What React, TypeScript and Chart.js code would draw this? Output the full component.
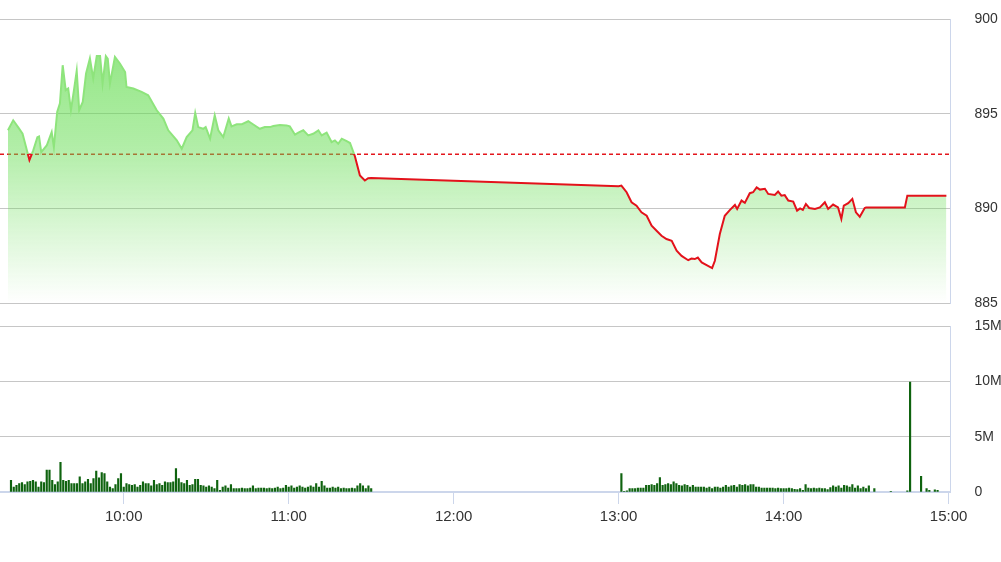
import React, { useEffect, useRef } from "react";
import { Chart, registerables } from "chart.js";

Chart.register(...registerables);

// Minutes elapsed since 09:15 (left edge of the time axis)
const X_MAX = 345.7;
const REFERENCE = 892.86;

const morningTimes = [
  2.9, 4.8, 6.7, 8.2, 10.7, 12.1, 13.6, 14.2, 15, 17, 18.8, 19.6, 20.8, 21.8, 22.8, 23.9, 24.8, 25.8, 26.9, 27.9,
  28.8, 30.1, 31.3, 32.7, 33.9, 35.2, 36.4, 37.3, 38.5, 39.2, 40, 41.8, 43.6, 45.5, 46, 48.5, 51.5, 53.9, 57, 59.4,
  61.2, 64.3, 66.1, 67.9, 70, 71, 72.1, 73.9, 74.8, 76.4, 78.1, 79.4, 81.2, 83.2, 84.2, 86.1, 88, 90.3, 92, 94.5,
  96.3, 98.2, 99.4, 101.8, 104.2, 105.4, 107.3, 108.5, 110.3, 112.1, 113.9, 115.8, 117, 118.8, 120.6, 121.8, 123,
  124.3, 126.1, 127.3, 129.1, 130.9, 132.7, 133.9, 135,
];
const morningPrices = [
  894.12, 894.65, 894.26, 893.94, 892.55, 893.06, 893.76, 893.8, 892.97, 893.32, 894.03, 893.23, 895.09, 895.55,
  897.56, 896.24, 896.33, 895.18, 896.24, 897.26, 895.18, 895.62, 897.12, 897.92, 896.86, 898.04, 898.04, 896.59,
  898.04, 897.9, 896.59, 898.0, 897.65, 897.2, 896.41, 896.33, 896.15, 895.97, 895.18, 894.74, 894.12, 893.59,
  893.15, 893.76, 894.12, 895.04, 894.29, 894.2, 894.29, 893.68, 894.91, 894.12, 893.76, 894.74, 894.33, 894.44,
  894.44, 894.6, 894.44, 894.2, 894.29, 894.29, 894.35, 894.4, 894.38, 894.33, 893.89, 894.0, 894.12, 893.85,
  893.94, 894.12, 893.85, 894.0, 893.5, 893.59, 893.41, 893.68, 893.55, 893.45, 892.74, 891.73, 891.47, 891.59,
  891.6,
];
const afternoonTimes = [
  225, 226, 227.9, 229.7, 231.5, 233.3, 235.2, 237, 238.8, 240.6, 242.4, 244.3, 246.1, 247.9, 250.3, 251.5, 252.7,
  253.8, 255.2, 257, 259, 260, 261.8, 263.6, 265.5, 267.3, 268.1, 269.7, 270.9, 272.7, 273.9, 275.2, 276.4, 278.2,
  279.4, 281.8, 283, 284.2, 285.4, 286.7, 288.5, 289.9, 291, 292, 293.1, 294.3, 296.4, 298.2, 300, 301.2, 303,
  304.8, 306, 306.9, 308.5, 310, 311.3, 312.7, 314.5, 315, 329.1, 330, 344.2,
];
const afternoonPrices = [
  891.17, 891.2, 890.85, 890.32, 890.14, 889.79, 889.61, 889.08, 888.82, 888.55, 888.38, 888.29, 887.76, 887.49,
  887.26, 887.35, 887.32, 887.4, 887.14, 887.0, 886.84, 887.23, 888.64, 889.61, 889.92, 890.18, 889.97, 890.41,
  890.29, 890.8, 890.85, 891.11, 890.99, 891.03, 890.76, 890.71, 890.89, 890.67, 890.7, 890.41, 890.36, 889.88,
  890.0, 889.92, 890.23, 890.02, 889.97, 890.05, 890.32, 889.97, 890.2, 890.05, 889.44, 890.14, 890.27, 890.5,
  889.79, 889.56, 890.02, 890.05, 890.05, 890.67, 890.67,
];

// Volume in millions, one bar per minute
const morningVolumeStart = 4; // 09:19
const morningVolumes = [
  1.06, 0.45, 0.6, 0.76, 0.85, 0.67, 0.91, 0.97, 1.06, 0.91, 0.45, 0.91, 0.85, 1.97, 1.97, 1.06, 0.67, 0.91, 2.67,
  1.06, 0.97, 1.06, 0.76, 0.76, 0.76, 1.36, 0.76, 0.91, 1.15, 0.76, 1.21, 1.88, 1.27, 1.76, 1.67, 0.91, 0.45, 0.3,
  0.67, 1.21, 1.67, 0.45, 0.76, 0.67, 0.6, 0.67, 0.45, 0.6, 0.91, 0.76, 0.76, 0.55, 1.06, 0.67, 0.76, 0.6, 0.91,
  0.85, 0.85, 0.91, 2.12, 1.21, 0.85, 0.76, 1.06, 0.6, 0.67, 1.15, 1.15, 0.6, 0.55, 0.45, 0.55, 0.45, 0.3, 1.06,
  0.15, 0.45, 0.55, 0.36, 0.67, 0.3, 0.3, 0.3, 0.36, 0.3, 0.3, 0.36, 0.55, 0.3, 0.36, 0.36, 0.36, 0.3, 0.36, 0.3,
  0.36, 0.45, 0.3, 0.36, 0.6, 0.45, 0.55, 0.36, 0.45, 0.55, 0.45, 0.36, 0.45, 0.55, 0.45, 0.76, 0.45, 0.97, 0.55,
  0.36, 0.36, 0.45, 0.36, 0.45, 0.3, 0.36, 0.3, 0.3, 0.36, 0.3, 0.55, 0.76, 0.55, 0.3, 0.55, 0.3,
];
const afternoonVolumeStart = 226; // 13:01
const afternoonVolumes = [
  1.67, 0.06, 0.1, 0.3, 0.3, 0.3, 0.36, 0.36, 0.36, 0.6, 0.6, 0.67, 0.6, 0.76, 1.3, 0.6, 0.67, 0.76, 0.67, 0.91,
  0.76, 0.6, 0.55, 0.67, 0.6, 0.45, 0.6, 0.45, 0.45, 0.45, 0.45, 0.36, 0.45, 0.3, 0.45, 0.45, 0.36, 0.45, 0.6,
  0.45, 0.55, 0.6, 0.45, 0.67, 0.6, 0.67, 0.55, 0.67, 0.67, 0.45, 0.45, 0.36, 0.36, 0.36, 0.36, 0.36, 0.3, 0.36,
  0.3, 0.3, 0.3, 0.36, 0.3, 0.24, 0.21, 0.3, 0.15, 0.67, 0.36, 0.3, 0.36, 0.3, 0.36, 0.3, 0.3, 0.21, 0.39, 0.55,
  0.45, 0.55, 0.36, 0.6, 0.55, 0.45, 0.67, 0.36, 0.55, 0.3, 0.45, 0.3, 0.55,
];
const closeVolumeTimes = [318, 324, 330, 331, 335, 337, 338, 340, 341];
const closeVolumes = [0.3, 0.06, 0.1, 9.94, 1.42, 0.3, 0.15, 0.2, 0.15];

const timeTicks = [45, 105, 165, 225, 285, 345];
const priceTicks = [885, 890, 895, 900];
const volumeTicks = [0, 5, 10, 15];

const GREEN_LINE = "#8ee47c";
const RED_LINE = "#e3121b";
const AXIS_BLUE = "#ccd6eb";
const GRID = "#c6c6c6";
const TEXT = "#333333";
const FONT = '"Liberation Sans", Arial, sans-serif';

function fmtTime(v: number): string {
  const total = 9 * 60 + 15 + Math.round(v);
  const h = Math.floor(total / 60);
  const m = total % 60;
  return `${h}:${m < 10 ? "0" + m : m}`;
}

const fixRightAxis = (s: any) => {
  s.width = 50.5;
  s.paddingTop = 0;
  s.paddingBottom = 0;
};

export default function App() {
  const topRef = useRef<HTMLCanvasElement>(null);
  const botRef = useRef<HTMLCanvasElement>(null);

  useEffect(() => {
    Chart.defaults.font.family = FONT;

    const priceTimes = morningTimes.concat(afternoonTimes);
    const priceValues = morningPrices.concat(afternoonPrices);
    const pricePoints = priceTimes.map((t, i) => ({ x: t, y: priceValues[i] }));

    const lineColor = (ctx: any) => {
      const chart = ctx.chart;
      const area = chart.chartArea;
      if (!area) return GREEN_LINE;
      const yRef = chart.scales.y.getPixelForValue(REFERENCE);
      const f = Math.min(Math.max((yRef - area.top) / (area.bottom - area.top), 0), 1);
      const g = chart.ctx.createLinearGradient(0, area.top, 0, area.bottom);
      g.addColorStop(0, GREEN_LINE);
      g.addColorStop(f, GREEN_LINE);
      g.addColorStop(f, RED_LINE);
      g.addColorStop(1, RED_LINE);
      return g;
    };
    const fillColor = (ctx: any) => {
      const chart = ctx.chart;
      const area = chart.chartArea;
      if (!area) return "rgba(100,220,80,0.5)";
      const g = chart.ctx.createLinearGradient(0, area.top, 0, area.bottom);
      g.addColorStop(0, "rgba(100,220,80,0.75)");
      g.addColorStop(0.45, "rgba(100,220,80,0.5)");
      g.addColorStop(1, "rgba(100,220,80,0)");
      return g;
    };

    const top = new Chart(topRef.current!, {
      type: "line",
      data: {
        datasets: [
          {
            data: pricePoints,
            borderColor: lineColor,
            backgroundColor: fillColor,
            fill: "start",
            borderWidth: 2,
            pointRadius: 0,
            tension: 0,
            order: 0,
          },
          {
            data: [
              { x: 0, y: REFERENCE },
              { x: X_MAX, y: REFERENCE },
            ],
            borderColor: "#e3161d",
            borderWidth: 1.5,
            borderDash: [4, 3],
            pointRadius: 0,
            fill: false,
            order: 1,
          },
        ],
      },
      options: {
        animation: false,
        responsive: false,
        layout: { padding: { top: 19, bottom: 9, left: 0, right: 0 } },
        plugins: { legend: { display: false }, tooltip: { enabled: false } },
        scales: {
          x: { type: "linear", min: 0, max: X_MAX, display: false },
          y: {
            position: "right",
            min: 885,
            max: 900,
            afterBuildTicks: (s: any) => {
              s.ticks = priceTicks.map((v) => ({ value: v }));
            },
            afterFit: fixRightAxis,
            grid: { color: GRID, drawTicks: false, lineWidth: 1 },
            border: { display: true, color: AXIS_BLUE, width: 1 },
            ticks: { padding: 24, color: TEXT, font: { size: 14, family: FONT } },
          },
        },
      },
    } as any);

    const volumePoints = [
      ...morningVolumes.map((v, i) => ({ x: morningVolumeStart + i, y: v })),
      ...afternoonVolumes.map((v, i) => ({ x: afternoonVolumeStart + i, y: v })),
      ...closeVolumeTimes.map((t, i) => ({ x: t, y: closeVolumes[i] })),
    ];

    const bot = new Chart(botRef.current!, {
      type: "bar",
      data: {
        datasets: [
          {
            data: volumePoints,
            backgroundColor: "#0f630f",
            borderWidth: 0,
            barThickness: 1.5,
          },
        ],
      },
      options: {
        animation: false,
        responsive: false,
        layout: { padding: { top: 14, bottom: 32, left: 0, right: 0 } },
        plugins: { legend: { display: false }, tooltip: { enabled: false } },
        scales: {
          x: {
            type: "linear",
            min: 0,
            max: X_MAX,
            offset: false,
            afterBuildTicks: (s: any) => {
              s.ticks = timeTicks.map((v) => ({ value: v }));
            },
            grid: {
              display: true,
              drawOnChartArea: false,
              drawTicks: true,
              tickLength: 12,
              color: AXIS_BLUE,
              offset: false,
            },
            border: { display: true, color: AXIS_BLUE, width: 2 },
            ticks: {
              callback: (v: any) => fmtTime(Number(v)),
              padding: 4,
              color: TEXT,
              font: { size: 15, family: FONT },
              maxRotation: 0,
              autoSkip: false,
            },
          },
          y: {
            position: "right",
            min: 0,
            max: 15,
            afterBuildTicks: (s: any) => {
              s.ticks = volumeTicks.map((v) => ({ value: v }));
            },
            afterFit: fixRightAxis,
            grid: { color: GRID, drawTicks: false, lineWidth: 1 },
            border: { display: true, color: AXIS_BLUE, width: 1 },
            ticks: {
              padding: 24,
              color: TEXT,
              font: { size: 14, family: FONT },
              callback: (v: any) => (Number(v) === 0 ? "0" : `${v}M`),
            },
          },
        },
      },
    } as any);

    return () => {
      top.destroy();
      bot.destroy();
    };
  }, []);

  return (
    <div style={{ position: "absolute", left: 0, top: 0, width: 1001, height: 562, background: "#fff" }}>
      <canvas ref={topRef} width={1001} height={312} style={{ position: "absolute", left: 0, top: 0 }} />
      <canvas ref={botRef} width={1001} height={250} style={{ position: "absolute", left: 0, top: 312 }} />
    </div>
  );
}
